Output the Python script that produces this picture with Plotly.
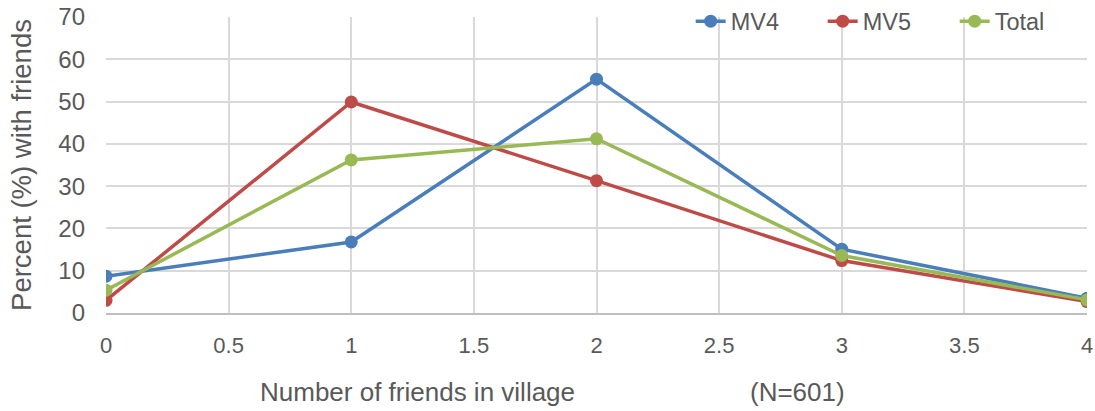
import plotly.graph_objects as go

# Number of friends in village (x) and percent with that many friends
friends = [0, 1, 2, 3, 4]
mv4 = [8.7, 16.8, 55.3, 15.1, 3.5]
mv5 = [3.0, 49.9, 31.3, 12.4, 2.7]
total = [5.4, 36.2, 41.2, 13.6, 3.1]

series = [
    ("MV4", mv4, "#4a7ebb"),
    ("MV5", mv5, "#be4b48"),
    ("Total", total, "#98b954"),
]

fig = go.Figure()
for name, vals, color in series:
    fig.add_trace(go.Scatter(
        x=friends, y=vals, name=name, mode="lines+markers",
        line=dict(color=color, width=3.5),
        marker=dict(color=color, size=13),
    ))

font_family = "Liberation Sans, Arial, sans-serif"
fig.update_layout(
    width=1095, height=411,
    margin=dict(l=106, r=8, t=17, b=98, autoexpand=False),
    plot_bgcolor="white", paper_bgcolor="white",
    font=dict(family=font_family, color="#595959", size=22),
    showlegend=True,
    legend=dict(
        orientation="h", x=0.596, xanchor="left", y=0.985, yanchor="middle",
        font=dict(size=23.5, color="#595959"), bgcolor="rgba(255,255,255,0)",
        entrywidth=87, entrywidthmode="pixels", tracegroupgap=0,
    ),
    xaxis=dict(
        range=[0, 4], tickmode="linear", tick0=0, dtick=0.5,
        showgrid=True, gridcolor="#d9d9d9", gridwidth=2,
        zeroline=False, showline=True, linecolor="#bfbfbf", linewidth=2,
        ticks="", ticklabelstandoff=12,
        tickfont=dict(size=22),
    ),
    yaxis=dict(
        range=[0, 70], tickmode="linear", tick0=0, dtick=10,
        showgrid=True, gridcolor="#d9d9d9", gridwidth=2,
        zeroline=False, showline=False, ticks="", ticklabelstandoff=20,
        tickfont=dict(size=24),
        title=dict(text="Percent (%) with friends", font=dict(size=27.5), standoff=18),
    ),
)

# x-axis caption in two parts: description and sample size
plot_w = 1095 - 106 - 8
for text, px in [("Number of friends in village", 417), ("(N=601)", 797)]:
    fig.add_annotation(
        text=text, x=(px - 106) / plot_w, xref="paper", xanchor="center",
        y=-79 / (411 - 17 - 98), yref="paper", yanchor="middle",
        showarrow=False, font=dict(size=26, color="#595959"),
    )

fig.write_html("out.html")
